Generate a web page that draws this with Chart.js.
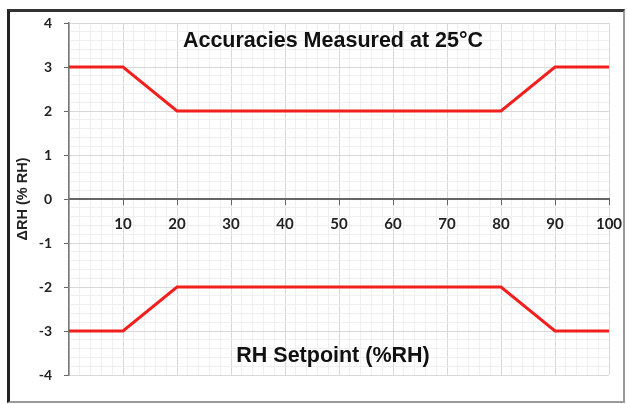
<!DOCTYPE html>
<html>
<head>
<meta charset="utf-8">
<script src="https://cdn.jsdelivr.net/npm/chart.js@4/dist/chart.umd.min.js"></script>
<style>
  body { margin: 0; background: #fff; }
  #wrap { position: relative; width: 627px; height: 404px; }
  #frame {
    position: absolute; left: 7px; top: 9px; right: 2px; bottom: 1px;
    border-left: 3px solid #222; border-top: 3px solid #333;
    border-right: 2px solid #9a9a9a; border-bottom: 2px solid #9a9a9a;
    pointer-events: none;
  }
</style>
</head>
<body>
<div id="wrap">
  <canvas id="chart" width="627" height="404"></canvas>
  <div id="frame"></div>
</div>
<script>
// setpoints (%RH) and the +/- accuracy band
const setpoints = [0, 10, 20, 80, 90, 100]
const upperLimit = [3, 3, 2, 2, 3, 3]
const lowerLimit = [-3, -3, -2, -2, -3, -3]

const xTickLabels = [10, 20, 30, 40, 50, 60, 70, 80, 90, 100]
const yTickLabels = [-4, -3, -2, -1, 0, 1, 2, 3, 4]

const chartTitle = 'Accuracies Measured at 25°C'
const xTitle = 'RH Setpoint (%RH)'
const yTitle = 'ΔRH (% RH)'

const red = '#f21f1f'

function points(ys) {
    return setpoints.map((x, i) => ({ x: x, y: ys[i] }))
}

function isWhole(v) {
    return Math.abs(v - Math.round(v)) < 1e-6
}

// titles sit inside the plot area, so draw them after the lines
const inPlotTitles = {
    id: 'inPlotTitles',
    afterDatasetsDraw(chart) {
        const { ctx, chartArea } = chart
        const cx = (chartArea.left + chartArea.right) / 2 - 6
        ctx.save()
        ctx.fillStyle = '#111'
        ctx.font = 'bold 21.5px "Liberation Sans", Arial, sans-serif'
        ctx.textAlign = 'center'
        ctx.textBaseline = 'middle'
        ctx.fillText(chartTitle, cx, chartArea.top + 18)
        ctx.fillText(xTitle, cx, chartArea.bottom - 19)
        ctx.restore()
    }
}

new Chart(document.getElementById('chart'), {
    type: 'line',
    data: {
        datasets: [
            { label: 'upper', data: points(upperLimit), borderColor: red, borderWidth: 3, pointRadius: 0, tension: 0, fill: false },
            { label: 'lower', data: points(lowerLimit), borderColor: red, borderWidth: 3, pointRadius: 0, tension: 0, fill: false }
        ]
    },
    options: {
        responsive: false,
        animation: false,
        layout: { padding: { left: 9, top: 23, right: 18, bottom: 29 } },
        plugins: {
            legend: { display: false },
            tooltip: { enabled: false }
        },
        scales: {
            x: {
                type: 'linear',
                min: 0,
                max: 100,
                position: { y: 0 },
                afterFit: scale => { scale.paddingLeft = 0; scale.paddingRight = 0 },
                border: { display: true, color: '#666', width: 2 },
                grid: {
                    color: ctx => (ctx.tick && ctx.tick.value % 10 === 0) ? '#d9d9d9' : '#efefef',
                    tickColor: ctx => (ctx.tick && ctx.tick.value % 10 === 0 && ctx.tick.value !== 0) ? '#666' : 'rgba(0,0,0,0)',
                    tickLength: 5
                },
                ticks: {
                    stepSize: 2,
                    autoSkip: false,
                    maxRotation: 0,
                    maxTicksLimit: 200,
                    padding: 11,
                    color: '#222',
                    font: { family: 'Lato', size: 15, weight: 'bold' },
                    callback: v => xTickLabels.includes(v) ? String(v) : ''
                }
            },
            y: {
                type: 'linear',
                min: -4,
                max: 4,
                afterFit: scale => { scale.width = 60 },
                border: { display: true, color: '#777', width: 1.5 },
                grid: {
                    color: ctx => (ctx.tick && isWhole(ctx.tick.value)) ? '#d9d9d9' : '#efefef',
                    tickColor: ctx => (ctx.tick && isWhole(ctx.tick.value)) ? '#666' : 'rgba(0,0,0,0)',
                    tickLength: 5
                },
                ticks: {
                    stepSize: 0.2,
                    autoSkip: false,
                    maxTicksLimit: 200,
                    padding: 12,
                    color: '#222',
                    font: { family: 'Lato', size: 14, weight: 'bold' },
                    callback: v => {
                        const r = Math.round(v)
                        return (isWhole(v) && yTickLabels.includes(r)) ? String(r) : ''
                    }
                },
                title: {
                    display: true,
                    text: yTitle,
                    color: '#222',
                    font: { family: 'Liberation Sans', size: 14.5, weight: 'bold' },
                    padding: { top: 5, bottom: 0 }
                }
            }
        }
    },
    plugins: [inPlotTitles]
})
</script>
</body>
</html>
